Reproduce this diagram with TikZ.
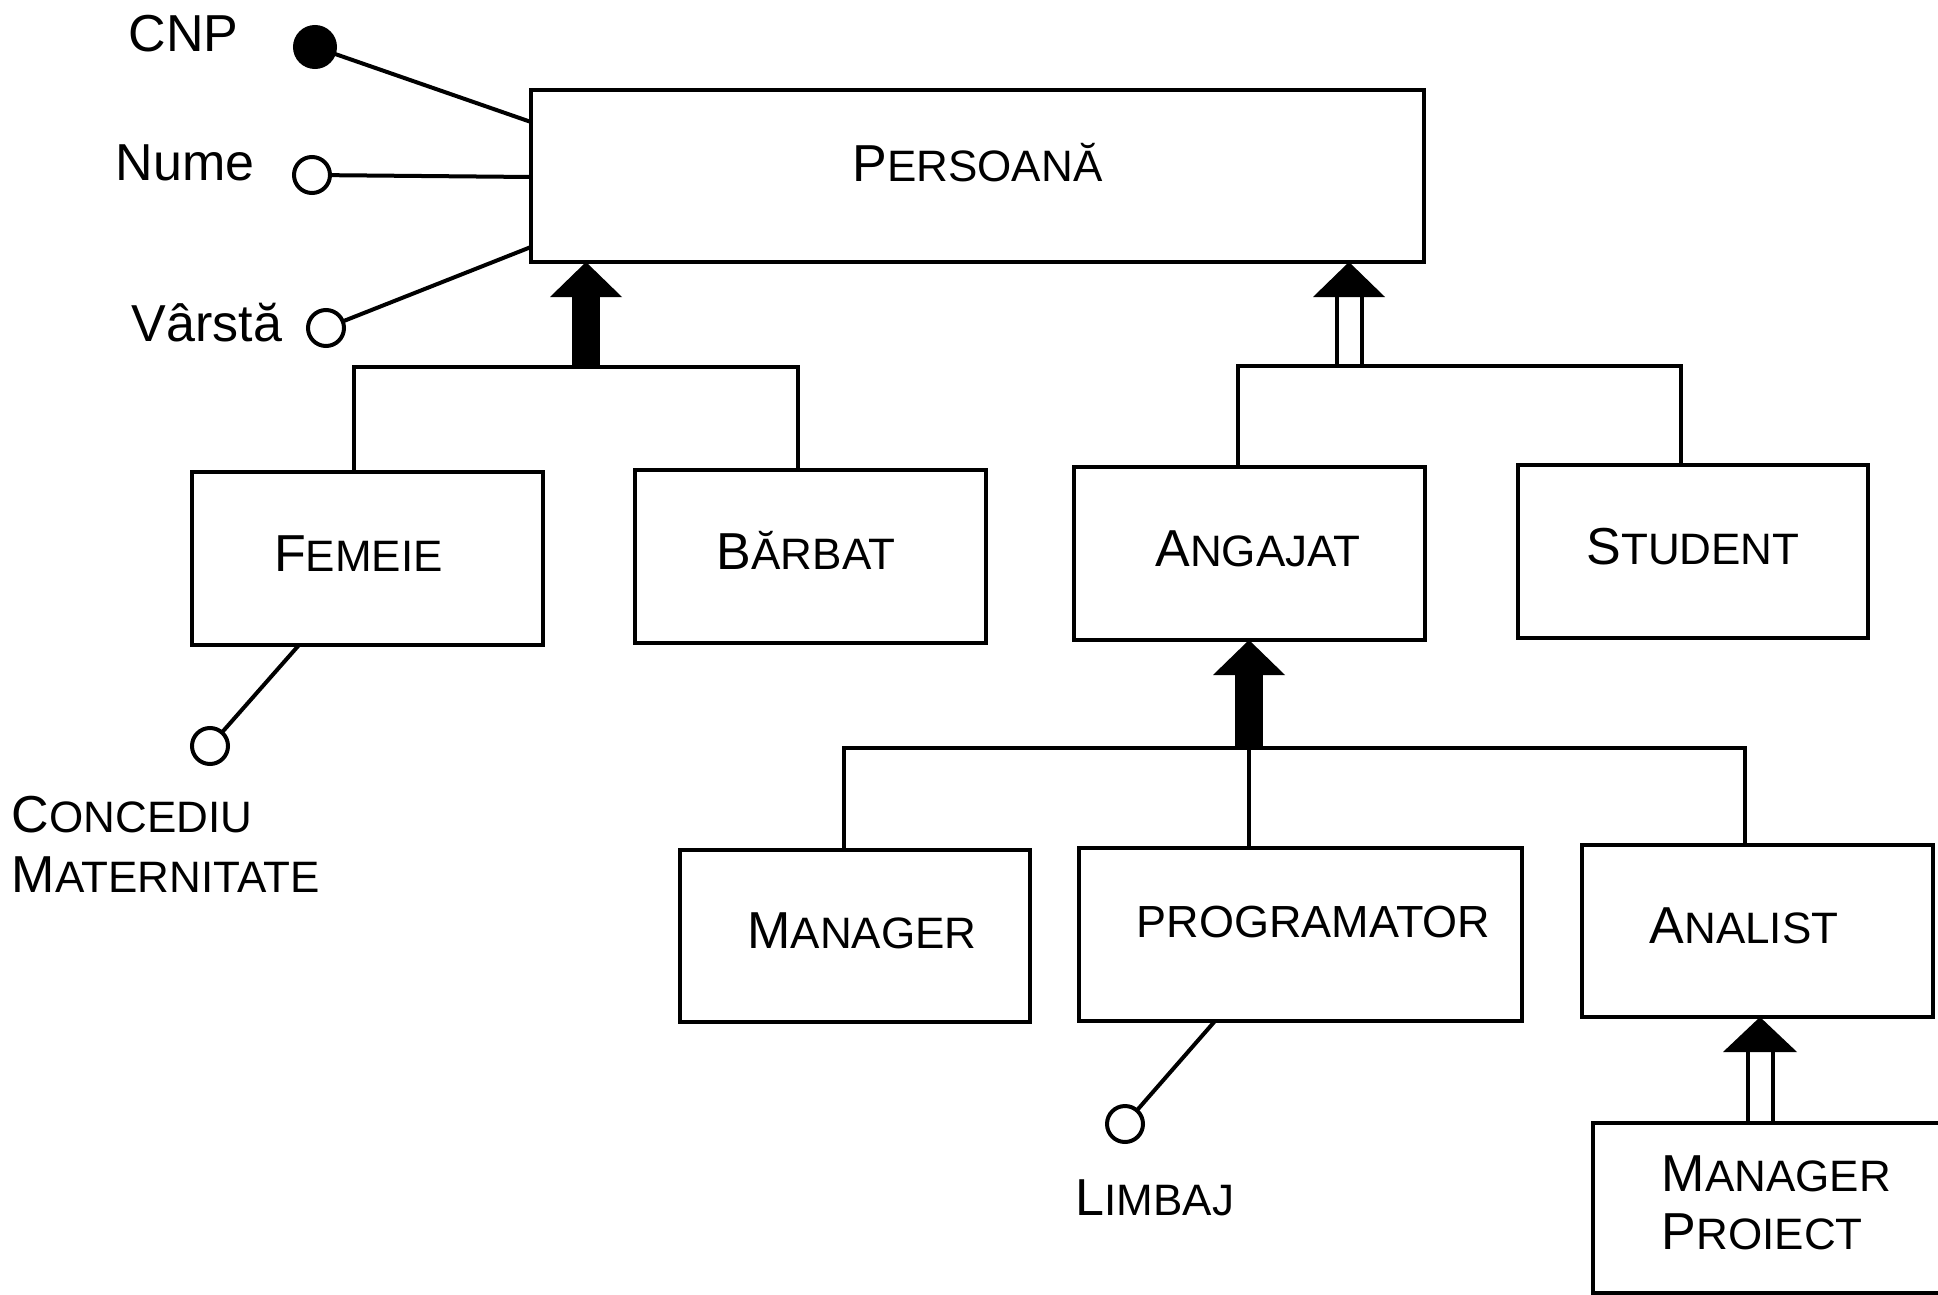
\documentclass[tikz,border=0pt]{standalone}
\usepackage{fontspec}
\setmainfont{Liberation Sans}
% small capitals: large initial, smaller remaining capitals
\newcommand\capsc[2]{{\fontsize{52}{60}\selectfont #1}{\fontsize{44}{60}\selectfont #2}}
\begin{document}
\begin{tikzpicture}[x=1pt,y=-1pt,
  every node/.style={inner sep=0pt, outer sep=0pt},
  link/.style={line width=4pt},
  box/.style={draw, rectangle, line width=4pt},
  entity/.style={box, font=\fontsize{52}{60}\selectfont, text height=37pt, text depth=12pt},
  attr/.style={draw, circle, line width=4pt, minimum size=36pt, fill=white},
  keyattr/.style={draw, circle, line width=4pt, minimum size=40pt, fill=black},
  attrlabel/.style={font=\fontsize{52}{60}\selectfont},
  solidshaft/.style={line width=28pt},
  head/.style={fill=black, draw=none},
]
\clip (0,0) rectangle (1938,1295);
\fill[white] (0,0) rectangle (1938,1295);

% entity boxes
\node[entity, minimum width=893pt, minimum height=172pt, text depth=26pt] (persoana) at (977.5,176) {\capsc{P}{ERSOANĂ}};
\node[entity, minimum width=351pt, minimum height=173pt] (femeie) at (367.5,558.5) {\capsc{F}{EMEIE}\hspace*{18pt}};
\node[entity, minimum width=351pt, minimum height=173pt] (barbat) at (810.5,556.5) {\capsc{B}{ĂRBAT}\hspace*{9pt}};
\node[entity, minimum width=351pt, minimum height=173pt] (angajat) at (1249.5,553.5) {\hspace*{17pt}\capsc{A}{NGAJAT}};
\node[entity, minimum width=350pt, minimum height=173pt] (student) at (1693,551.5) {\capsc{S}{TUDENT}};
\node[entity, minimum width=350pt, minimum height=172pt] (manager) at (855,936) {\hspace*{14pt}\capsc{M}{ANAGER}};
\node[entity, minimum width=443pt, minimum height=173pt, font=\fontsize{45}{50}\selectfont, text height=32pt, text depth=27pt] (programator) at (1300.5,934.5) {\hspace*{26pt}PROGRAMATOR};
\node[entity, minimum width=351pt, minimum height=172pt] (analist) at (1757.5,931) {\capsc{A}{NALIST}\hspace*{27pt}};
\node[box, minimum width=367pt, minimum height=170pt, align=left, font=\fontsize{52}{58}\selectfont, text depth=10pt] (mproiect) at (1776.5,1208) {\capsc{M}{ANAGER}\\\capsc{P}{ROIECT}\hspace*{10pt}};

% attributes
\node[keyattr] (cnp) at (315,47) {};
\node[attr] (nume) at (312,175) {};
\node[attr] (varsta) at (326,328) {};
\node[attr] (concediu) at (210,746) {};
\node[attr] (limbaj) at (1125,1124) {};

\node[attrlabel, anchor=base] (cnpT) at (183.5,52) {CNP};
\node[attrlabel, anchor=base] (numeT) at (185,180) {Nume};
\node[attrlabel, anchor=base] (varstaT) at (207,341) {Vârstă};
\node[attrlabel, anchor=base west, align=left] (concediuT) at (12,892) {\capsc{C}{ONCEDIU}\\\capsc{M}{ATERNITATE}};
\node[attrlabel, anchor=base] (limbajT) at (1155,1215) {\capsc{L}{IMBAJ}};

\draw[link] (cnp) -- ([yshift=54pt]persoana.west);
\draw[link] (nume) -- ([yshift=-1pt]persoana.west);
\draw[link] (varsta) -- ([yshift=-71pt]persoana.west);
\draw[link] (concediu) -- ([xshift=-68.5pt]femeie.south);
\draw[link] (limbaj) -- ([xshift=-85.5pt]programator.south);

% junctions of the specialisation buses
\coordinate (j1) at (586,367);
\coordinate (j2) at (1349,366);
\coordinate (j3) at (1249,748);
\coordinate (t1) at (j1 |- persoana.south);
\coordinate (t2) at (j2 |- persoana.south);
\coordinate (t3) at (j3 |- angajat.south);
\coordinate (t4) at ([xshift=2.5pt]analist.south);
\coordinate (b4) at (t4 |- mproiect.north);

% arrow shafts
\draw[solidshaft] (j1) -- ([yshift=-34pt]t1);
\draw[solidshaft] (j3) -- ([yshift=-34pt]t3);
\draw[link] ([xshift=-12.5pt]j2) -- ([xshift=-12.5pt,yshift=-34pt]t2);
\draw[link] ([xshift=12.5pt]j2) -- ([xshift=12.5pt,yshift=-34pt]t2);
\draw[link] ([xshift=-12.5pt]b4) -- ([xshift=-12.5pt,yshift=-34pt]t4);
\draw[link] ([xshift=12.5pt]b4) -- ([xshift=12.5pt,yshift=-34pt]t4);

% arrow heads
\fill[head] (t1) -- ++(-36,35) -- ++(72,0) -- cycle;
\fill[head] (t2) -- ++(-36,35) -- ++(72,0) -- cycle;
\fill[head] (t3) -- ++(-36,35) -- ++(72,0) -- cycle;
\fill[head] (t4) -- ++(-37,35) -- ++(74,0) -- cycle;

% buses
\draw[link] ([xshift=-13.5pt]femeie.north) |- (j1) -| ([xshift=-12.5pt]barbat.north);
\draw[link] ([xshift=-11.5pt]angajat.north) |- (j2) -| ([xshift=-12pt]student.north);
\draw[link] ([xshift=-11pt]manager.north) |- (j3) -| ([xshift=-12.5pt]analist.north);
\draw[link] (j3) -- (j3 |- programator.north);
\end{tikzpicture}
\end{document}
